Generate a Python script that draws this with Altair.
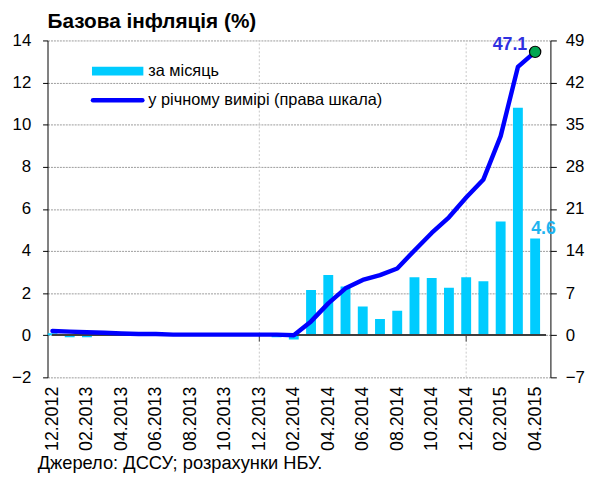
import altair as alt
import pandas as pd

months = ["12.2012",
          "01.2013", "02.2013", "03.2013", "04.2013", "05.2013", "06.2013",
          "07.2013", "08.2013", "09.2013", "10.2013", "11.2013", "12.2013",
          "01.2014", "02.2014", "03.2014", "04.2014", "05.2014", "06.2014",
          "07.2014", "08.2014", "09.2014", "10.2014", "11.2014", "12.2014",
          "01.2015", "02.2015", "03.2015", "04.2015"]
monthly = [0.1, -0.1, -0.1, 0.0, 0.1, 0.0, 0.0, 0.0, 0.0, 0.1, 0.0, 0.0, 0.0,
           -0.1, -0.2, 2.15, 2.86, 2.31, 1.37, 0.77, 1.16, 2.76, 2.72, 2.26,
           2.76, 2.56, 5.4, 10.8, 4.6]
annual = [0.7, 0.6, 0.5, 0.4, 0.3, 0.2, 0.2, 0.1, 0.1, 0.1, 0.1, 0.1, 0.1,
          0.1, 0.0, 2.3, 5.3, 7.8, 9.2, 10.0, 11.1, 14.1, 17.0, 19.6,
          22.9, 25.9, 33.1, 44.6, 47.1]
grid_months = ["12.2013", "12.2014"]
left_ticks = [-2, 0, 2, 4, 6, 8, 10, 12, 14]
right_ticks = [-7, 0, 7, 14, 21, 28, 35, 42, 49]

title_text = "Базова інфляція (%)"
legend_bar = "за місяць"
legend_line = "у річному вимірі (права шкала)"
source_text = "Джерело: ДССУ; розрахунки НБУ."

FONT = "Liberation Sans"
BAR = "#00CCFF"
LINE = "#0000FF"

df = pd.DataFrame({"idx": list(range(len(months))), "month": months,
                   "monthly": monthly, "annual": annual})
last = df.iloc[[-1]]
grid_df = pd.DataFrame({"idx": [months.index(m) for m in grid_months]})
one = pd.DataFrame({"a": [0]})

xscale = alt.Scale(domain=[0, len(months) - 0.4], nice=False, zero=False)
yl = alt.Scale(domain=[left_ticks[0], left_ticks[-1]], nice=False, zero=False)
yr = alt.Scale(domain=[right_ticks[0], right_ticks[-1]], nice=False, zero=False)

label_expr = "[" + ",".join("'" + m + "'" for m in months) + "][datum.value]"
x_axis = alt.Axis(values=list(range(0, len(months), 2)), labelExpr=label_expr,
                  labelAngle=270, labelAlign="right", labelBaseline="middle",
                  domain=False, ticks=False, grid=False, labelPadding=9,
                  labelFontSize=18, labelFont=FONT, labelColor="black", title=None)
left_axis = alt.Axis(values=left_ticks, grid=True, gridColor="#9a9a9a",
                     gridDash=[2, 1], gridWidth=1, domainColor="black",
                     tickColor="black", tickSize=5, labelPadding=12,
                     labelFontSize=17, labelFont=FONT, labelColor="black", title=None)
right_axis = alt.Axis(values=right_ticks, grid=False, domainColor="black",
                      tickColor="black", tickSize=6, labelPadding=9, orient="right",
                      labelFontSize=17, labelFont=FONT, labelColor="black", title=None)

X = alt.X("idx:Q", scale=xscale, axis=x_axis)
YL = dict(scale=yl, axis=left_axis)
YR = dict(scale=yr, axis=right_axis)

vgrid = alt.Chart(grid_df).mark_rule(color="#c8c8c8", strokeDash=[2, 2], strokeWidth=1).encode(
    x=X, y=alt.YDatum(left_ticks[0], **YL), y2=alt.Y2Datum(left_ticks[-1]))
bars = alt.Chart(df).mark_bar(color=BAR, size=10, clip=True, orient="vertical").encode(
    x=X, y=alt.Y("monthly:Q", **YL), y2=alt.Y2Datum(0))
zero = alt.Chart(df).mark_rule(color="#404040", strokeWidth=1).encode(
    x=alt.XDatum(0, scale=xscale, axis=x_axis), x2=alt.X2Datum(len(months) - 0.4),
    y=alt.YDatum(0, **YL))
zticks = alt.Chart(grid_df).mark_rule(color="#404040", strokeWidth=1).encode(
    x=X, y=alt.YDatum(0, **YL), y2=alt.Y2Datum(-0.3))
lbl46 = alt.Chart(last).mark_text(align="left", baseline="alphabetic", dx=-4, dy=-4,
                                  fontSize=18, fontWeight="bold", font=FONT,
                                  color="#1EB4F0").encode(
    x=X, y=alt.Y("monthly:Q", **YL), text=alt.Text("monthly:Q", format=".1f"))

leg_rect = alt.Chart(one).mark_rect(color=BAR).encode(
    x=alt.value(45), x2=alt.value(97), y=alt.value(26.5), y2=alt.value(35.5))
leg_t1 = alt.Chart(one).mark_text(align="left", baseline="middle", fontSize=16.5,
                                  font=FONT, color="black").encode(
    x=alt.value(102), y=alt.value(31), text=alt.value(legend_bar))
leg_line = alt.Chart(one).mark_rule(color=LINE, strokeWidth=4.5, strokeCap="round").encode(
    x=alt.value(46), x2=alt.value(96), y=alt.value(60.5))
leg_t2 = alt.Chart(one).mark_text(align="left", baseline="middle", fontSize=16.5,
                                  font=FONT, color="black").encode(
    x=alt.value(102), y=alt.value(60.5), text=alt.value(legend_line))
src = alt.Chart(one).mark_text(align="left", baseline="alphabetic", fontSize=18.5,
                               font=FONT, color="black").encode(
    x=alt.value(-10), y=alt.value(434), text=alt.value(source_text))

left = alt.layer(vgrid, bars, zero, zticks, lbl46, leg_rect, leg_t1, leg_line, leg_t2, src)

line = alt.Chart(df).mark_line(color=LINE, strokeWidth=4.5, strokeJoin="round",
                               strokeCap="round").encode(
    x=X, y=alt.Y("annual:Q", **YR))
pt = alt.Chart(last).mark_circle(size=130, color="#00A651", stroke="black",
                                 strokeWidth=1.2, opacity=1).encode(
    x=X, y=alt.Y("annual:Q", **YR))
lbl47 = alt.Chart(last).mark_text(align="right", baseline="alphabetic", dx=-8, dy=-2,
                                  fontSize=18, fontWeight="bold", font=FONT,
                                  color="#3030E0").encode(
    x=X, y=alt.Y("annual:Q", **YR), text=alt.Text("annual:Q", format=".1f"))
right = alt.layer(line, pt, lbl47)

chart = alt.layer(left, right).resolve_scale(y="independent").properties(
    width=509, height=341,
    padding={"left": 40, "top": 30, "right": 35, "bottom": 97},
    autosize=alt.AutoSizeParams(type="none"),
    title=alt.TitleParams(title_text, anchor="start", frame="group", fontSize=21,
                          fontWeight="bold", font=FONT, color="black", offset=0),
).configure_view(stroke="transparent")

chart.save("out.html", embed_options={"renderer": "svg", "actions": False})
